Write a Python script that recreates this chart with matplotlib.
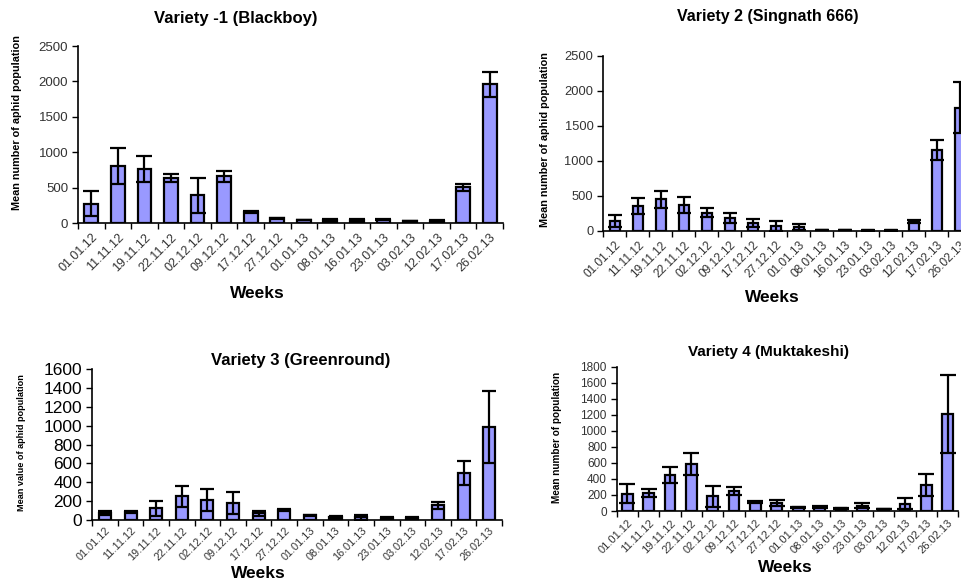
import matplotlib
matplotlib.use("Agg")
import matplotlib.pyplot as plt
import numpy as np

plt.rcParams['font.family'] = ['Liberation Sans', 'DejaVu Sans']

weeks = ["01.01.12", "11.11.12", "19.11.12", "22.11.12", "02.12.12", "09.12.12",
         "17.12.12", "27.12.12", "01.01.13", "08.01.13", "16.01.13", "23.01.13",
         "03.02.13", "12.02.13", "17.02.13", "26.02.13"]

blackboy_mean = [275, 805, 765, 633, 389, 657, 155, 66, 42, 45, 45, 45, 30, 35, 502, 1960]
blackboy_err = [180, 255, 182, 57, 244, 84, 10, 5, 5, 10, 10, 8, 5, 5, 47, 174]

singnath_mean = [143, 357, 452, 371, 262, 190, 110, 71, 52, 15, 15, 8, 8, 133, 1157, 1762]
singnath_err = [81, 119, 119, 119, 67, 72, 57, 67, 43, 5, 5, 3, 3, 19, 138, 367]

greenround_mean = [78, 85, 124, 251, 209, 177, 71, 103, 50, 30, 30, 25, 25, 156, 499, 988]
greenround_err = [20, 10, 78, 113, 117, 117, 25, 10, 5, 15, 25, 8, 10, 35, 124, 385]

muktakeshi_mean = [216, 224, 449, 586, 183, 249, 116, 100, 45, 50, 35, 67, 25, 91, 324, 1214]
muktakeshi_err = [117, 46, 104, 133, 129, 50, 13, 37, 5, 8, 5, 33, 5, 71, 137, 486]

W, H = 962, 581
fig = plt.figure(figsize=(W / 100, H / 100), dpi=100)

BAR = '#9999FF'

def px_axes(left, right, top, bottom):
    return [left / W, (H - bottom) / H, (right - left) / W, (bottom - top) / H]

panels = [
    dict(rect=px_axes(78, 503, 46, 223), mean=blackboy_mean, err=blackboy_err,
         ylim=2500, ystep=500, tfs=9.5, xfs=9.0, xpad=6, bw=0.52, tcol='#333333',
         title="Variety -1 (Blackboy)", title_xy=(236, 19), title_fs=12.0,
         xl_xy=(257, 293), ylabel="Mean number of aphid population",
         yl_xy=(17, 123), yl_fs=7.8),
    dict(rect=px_axes(603.2, 603.2 + 16 * 23.0, 56, 231), mean=singnath_mean, err=singnath_err,
         ylim=2500, ystep=500, tfs=9.3, xfs=8.6, xpad=6, bw=0.45, tcol='#333333',
         title="Variety 2 (Singnath 666)", title_xy=(768, 16), title_fs=11.5,
         xl_xy=(772, 298), ylabel="Mean number of aphid population",
         yl_xy=(545, 140), yl_fs=7.8),
    dict(rect=px_axes(92.2, 502, 369.3, 520), mean=greenround_mean, err=greenround_err,
         ylim=1600, ystep=200, tfs=12.5, xfs=7.8, xpad=4, bw=0.47, tcol='#000000',
         title="Variety 3 (Greenround)", title_xy=(301, 360), title_fs=12.0,
         xl_xy=(258, 574), ylabel="Mean value of aphid population",
         yl_xy=(22, 443), yl_fs=6.6),
    dict(rect=px_axes(616.6, 958.4, 366.7, 511), mean=muktakeshi_mean, err=muktakeshi_err,
         ylim=1800, ystep=200, tfs=8.5, xfs=8.0, xpad=5, bw=0.5, tcol='#333333',
         title="Variety 4 (Muktakeshi)", title_xy=(768, 352), title_fs=11.0,
         xl_xy=(785, 567), ylabel="Mean number of population",
         yl_xy=(557, 437), yl_fs=7.2),
]

for p in panels:
    ax = fig.add_axes(p['rect'])
    x = np.arange(len(weeks))
    ax.bar(x, p['mean'], width=p['bw'], color=BAR, edgecolor='black', linewidth=1.6, zorder=2)
    ax.errorbar(x, p['mean'], yerr=p['err'], fmt='none', ecolor='black', elinewidth=1.6,
                capsize=p['bw'] * 11, capthick=1.6, zorder=3)
    ax.set_xlim(-0.5, len(weeks) - 0.5)
    ax.set_ylim(0, p['ylim'])
    ax.set_yticks(np.arange(0, p['ylim'] + 1, p['ystep']))
    ax.tick_params(axis='y', labelsize=p['tfs'], length=4, width=1, colors='black',
                   labelcolor=p['tcol'], pad=3)
    ax.set_xticks(x)
    ax.set_xticklabels(weeks, rotation=45, ha='right', rotation_mode='anchor',
                       fontsize=p['xfs'], color='#333333')
    ax.set_xticks(np.arange(-0.5, len(weeks), 1.0), minor=True)
    ax.tick_params(axis='x', which='major', length=0, pad=p['xpad'])
    ax.tick_params(axis='x', which='minor', length=4, width=1)
    for s in ['top', 'right']:
        ax.spines[s].set_visible(False)
    for s in ['left', 'bottom']:
        ax.spines[s].set_linewidth(1.2)
    ax.set_facecolor('none')
    fig.text(p['title_xy'][0] / W, 1 - p['title_xy'][1] / H, p['title'], ha='center',
             va='center', fontsize=p['title_fs'], fontweight='bold')
    fig.text(p['xl_xy'][0] / W, 1 - p['xl_xy'][1] / H, "Weeks", ha='center', va='center',
             fontsize=12.5, fontweight='bold')
    fig.text(p['yl_xy'][0] / W, 1 - p['yl_xy'][1] / H, p['ylabel'], ha='center', va='center',
             rotation=90, fontsize=p['yl_fs'], fontweight='bold')

fig.savefig("out.png", dpi=100)
